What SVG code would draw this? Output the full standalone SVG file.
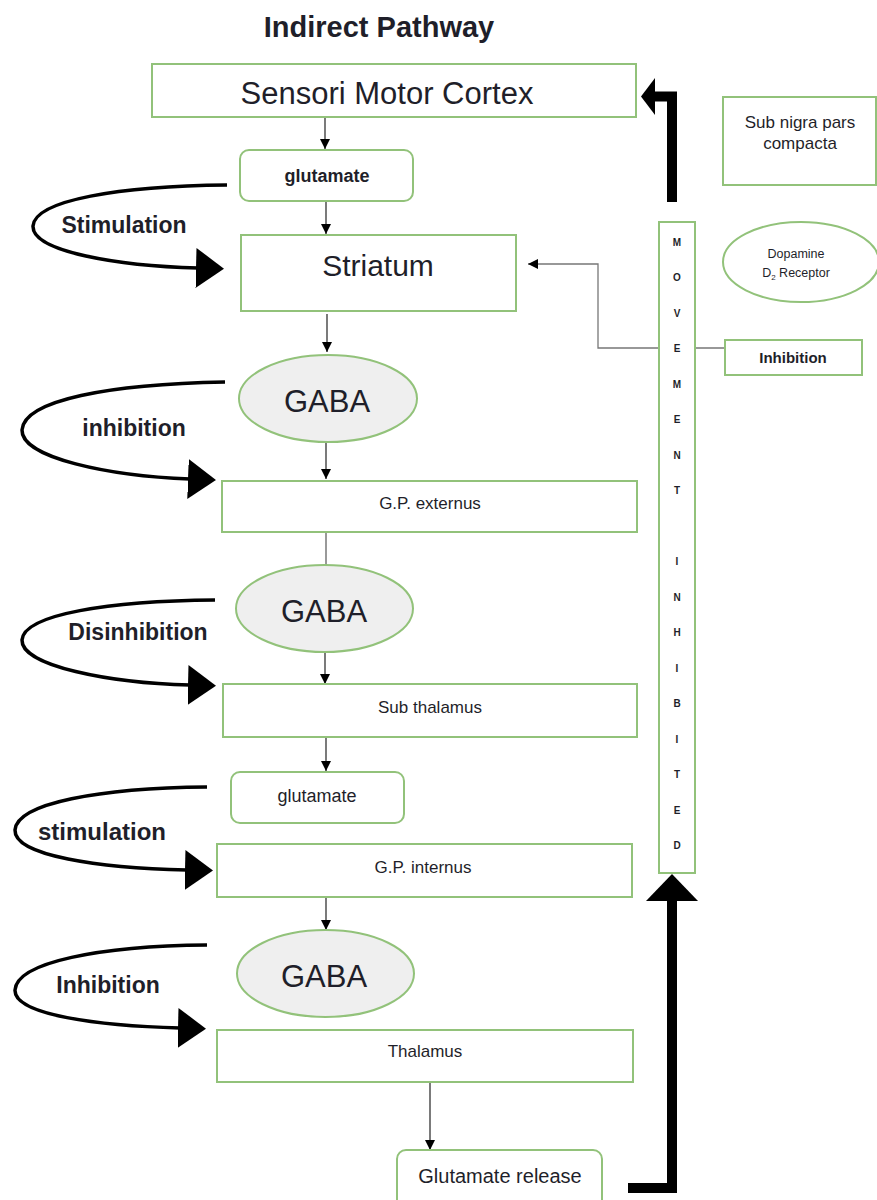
<svg xmlns="http://www.w3.org/2000/svg" width="877" height="1200" viewBox="0 0 877 1200">
<style>
.box{fill:#fff;stroke:#92c27a;stroke-width:2}
.ell{fill:#efefef;stroke:#92c27a;stroke-width:2}
.t{font-family:"Liberation Sans",Arial,sans-serif;fill:#1f1f2a;text-anchor:middle}
.b{font-weight:bold}
.thin{stroke:#333;stroke-width:1.3;fill:none}
.curve{stroke:#000;stroke-width:3.5;fill:none}
.thick{stroke:#000;stroke-width:10;fill:none;stroke-linejoin:miter}
</style>
<defs>
<marker id="sa" markerUnits="userSpaceOnUse" markerWidth="10" markerHeight="10" viewBox="0 0 10 10" refX="10" refY="5" orient="auto"><path d="M0,0 L10,5 L0,10 z" fill="#000"/></marker>
<marker id="ba" markerUnits="userSpaceOnUse" markerWidth="30" markerHeight="42" viewBox="0 0 30 42" refX="2" refY="21" orient="auto"><path d="M0,1 L28,21 L0,41 z" fill="#000"/></marker>
</defs>
<text class="t b" x="379" y="37" font-size="29">Indirect Pathway</text>

<g id="connectors">
<line class="thin" x1="325" y1="117" x2="325" y2="149" marker-end="url(#sa)"/>
<line class="thin" x1="326" y1="201" x2="326" y2="234" marker-end="url(#sa)"/>
<line class="thin" x1="327" y1="314" x2="327" y2="352" marker-end="url(#sa)"/>
<line class="thin" x1="326" y1="443" x2="326" y2="479" marker-end="url(#sa)"/>
<line x1="326" y1="532" x2="326" y2="565" stroke="#999" stroke-width="2"/>
<line class="thin" x1="325" y1="653" x2="325" y2="684" marker-end="url(#sa)"/>
<line class="thin" x1="326" y1="737" x2="326" y2="771" marker-end="url(#sa)"/>
<line class="thin" x1="326" y1="897" x2="326" y2="930" marker-end="url(#sa)"/>
<line class="thin" x1="430" y1="1082" x2="430" y2="1150" marker-end="url(#sa)"/>
<polyline points="725,348 598,348 598,264 528,264" fill="none" stroke="#777" stroke-width="1.3" marker-end="url(#sa)"/>
<path class="thick" d="M672 202 V96.5 H654"/>
<polygon points="641,96.5 655,78 655,115" fill="#000"/>
<path class="thick" d="M628 1188 H672 V899"/>
<polygon points="672,874 646,901 698,901" fill="#000"/>
<path class="curve" d="M227 185 C120 186 35 200 33 226 C32 252 120 266 198 268" marker-end="url(#ba)"/>
<path class="curve" d="M225 382 C110 384 24 400 22 430 C21 458 110 476 190 479" marker-end="url(#ba)"/>
<path class="curve" d="M215 600 C110 601 24 614 22 640 C21 666 110 683 190 685" marker-end="url(#ba)"/>
<path class="curve" d="M207 787 C100 788 17 803 15 830 C14 856 100 868 187 870" marker-end="url(#ba)"/>
<path class="curve" d="M207 945 C100 946 17 962 15 990 C14 1015 100 1026 180 1028" marker-end="url(#ba)"/>
</g>

<g id="labels">
<text class="t b" x="124" y="233" font-size="23">Stimulation</text>
<text class="t b" x="134" y="436" font-size="23">inhibition</text>
<text class="t b" x="138" y="640" font-size="23">Disinhibition</text>
<text class="t b" x="102" y="840" font-size="24">stimulation</text>
<text class="t b" x="108" y="993" font-size="23">Inhibition</text>
</g>

<g id="sensori"><rect class="box" x="152" y="64" width="484" height="53"/><text class="t" x="387" y="104" font-size="31">Sensori Motor Cortex</text></g>
<g id="glutamate1"><rect class="box" x="240" y="150" width="173" height="51" rx="9"/><text class="t b" x="327" y="182" font-size="18">glutamate</text></g>
<g id="striatum"><rect class="box" x="241" y="235" width="275" height="76"/><text class="t" x="378" y="276" font-size="30">Striatum</text></g>
<g id="gaba1"><ellipse class="ell" cx="328" cy="398.5" rx="89" ry="43.5"/><text class="t" x="327" y="412" font-size="31">GABA</text></g>
<g id="gpexternus"><rect class="box" x="222" y="481" width="415" height="51"/><text class="t" x="430" y="509" font-size="17">G.P. externus</text></g>
<g id="gaba2"><ellipse class="ell" cx="324.5" cy="608.5" rx="88.5" ry="43.5"/><text class="t" x="324" y="622" font-size="31">GABA</text></g>
<g id="subthalamus"><rect class="box" x="223" y="684" width="414" height="53"/><text class="t" x="430" y="713" font-size="17">Sub thalamus</text></g>
<g id="glutamate2"><rect class="box" x="231" y="772" width="173" height="51" rx="9"/><text class="t" x="317" y="802" font-size="18">glutamate</text></g>
<g id="gpinternus"><rect class="box" x="217" y="844" width="415" height="53"/><text class="t" x="423" y="873" font-size="17">G.P. internus</text></g>
<g id="gaba3"><ellipse class="ell" cx="325.5" cy="973.5" rx="88.5" ry="43.5"/><text class="t" x="324" y="987" font-size="31">GABA</text></g>
<g id="thalamus"><rect class="box" x="217" y="1030" width="416" height="52"/><text class="t" x="425" y="1057" font-size="17">Thalamus</text></g>
<g id="glutrelease"><rect class="box" x="397" y="1150" width="205" height="62" rx="9"/><text class="t" x="500" y="1183" font-size="20">Glutamate release</text></g>

<g id="subnigra"><rect class="box" x="723" y="97" width="153" height="88"/><text class="t" x="800" y="128" font-size="17">Sub nigra pars</text><text class="t" x="800" y="149" font-size="17">compacta</text></g>
<g id="dopamine"><ellipse class="box" cx="801" cy="262" rx="78" ry="40"/><text class="t" x="796" y="258" font-size="12.5">Dopamine</text><text class="t" x="796" y="277" font-size="12.5">D<tspan font-size="8" dy="3">2</tspan><tspan dy="-3"> Receptor</tspan></text></g>
<g id="inhibitionbox"><rect class="box" x="725" y="340" width="137" height="35"/><text class="t b" x="793" y="363" font-size="15">Inhibition</text></g>

<g id="movement"><rect class="box" x="659" y="222" width="36" height="651"/>
<g class="t b" font-size="10">
<text x="677" y="246">M</text><text x="677" y="281">O</text><text x="677" y="317">V</text><text x="677" y="352">E</text><text x="677" y="388">M</text><text x="677" y="423">E</text><text x="677" y="459">N</text><text x="677" y="494">T</text>
<text x="677" y="565">I</text><text x="677" y="601">N</text><text x="677" y="636">H</text><text x="677" y="672">I</text><text x="677" y="707">B</text><text x="677" y="743">I</text><text x="677" y="778">T</text><text x="677" y="814">E</text><text x="677" y="849">D</text>
</g></g>
</svg>
